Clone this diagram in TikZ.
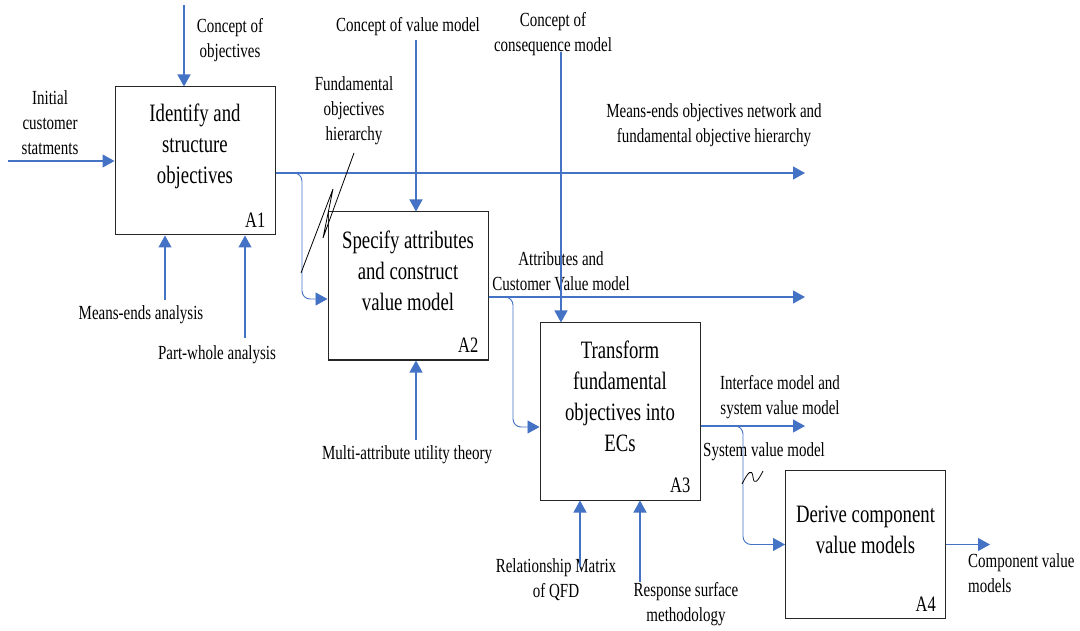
\documentclass[tikz,border=0pt]{standalone}
\usepackage{fontspec}
\setmainfont{Liberation Serif}[FakeStretch=0.75]
\usepackage{xcolor}
\usetikzlibrary{arrows.meta,positioning,calc}
\definecolor{idefblue}{RGB}{68,114,196}

\begin{document}
\begin{tikzpicture}[
  x=1pt, y=-1pt,
  act/.style={draw=black!85, line width=1pt, minimum width=160pt, minimum height=148pt, inner sep=0pt},
  acttxt/.style={align=center, inner sep=0pt, font=\fontsize{25}{31}\selectfont},
  num/.style={anchor=base east, inner sep=0pt, font=\fontsize{22}{22}\selectfont},
  lbl/.style={align=center, inner sep=0pt, font=\fontsize{20}{25}\selectfont},
  arr/.style={draw=idefblue, line width=1.2pt, -{Triangle[length=12pt,width=13pt]}},
  split/.style={arr, line width=0.9pt, rounded corners=8pt},
  tie/.style={draw=black, line width=0.8pt}
]
  \useasboundingbox (0,0) rectangle (1080,631);

  % activity boxes
  \node[act] (a1) at (195,161) {};
  \node[act] (a2) at (408,286) {};
  \node[act, minimum height=177pt] (a3) at (620,411.5) {};
  \node[act] (a4) at (865.5,544.5) {};

  \node[acttxt] (a1txt) at ($(a1.center)+(0,-15)$) {Identify and\\structure\\objectives};
  \node[acttxt] (a2txt) at ($(a2.center)+(0,-15)$) {Specify attributes\\and construct\\value model};
  \node[acttxt] (a3txt) at ($(a3.center)+(0,-15)$) {Transform\\fundamental\\objectives into\\ECs};
  \node[acttxt] (a4txt) at ($(a4.center)+(0,-15)$) {Derive component\\value models};

  \node[num] (a1num) at ($(a1.south east)+(-10,-8)$) {A1};
  \node[num] (a2num) at ($(a2.south east)+(-10,-8)$) {A2};
  \node[num] (a3num) at ($(a3.south east)+(-10,-8)$) {A3};
  \node[num] (a4num) at ($(a4.south east)+(-10,-8)$) {A4};

  % labels
  \node[lbl] (initl) at (50,123) {Initial\\customer\\statments};
  \node[lbl] (cobjl) at (230,40) {Concept of\\objectives};
  \node[lbl] (fohl) at (354,111) {Fundamental\\objectives\\hierarchy};
  \node[lbl] (cvml) at (408,27) {Concept of value model};
  \node[lbl] (ccml) at (553,34) {Concept of\\consequence model};
  \node[lbl] (menl) at (714,125.5) {Means-ends objectives network and\\fundamental objective hierarchy};
  \node[lbl] (attl) at (561,271.5) {Attributes and\\Customer Value model};
  \node[lbl] (meal) at (141,315) {Means-ends analysis};
  \node[lbl] (pwal) at (217,355) {Part-whole analysis};
  \node[lbl] (maul) at (407,455) {Multi-attribute utility theory};
  \node[lbl] (ifml) at (780,397.5) {Interface model and\\system value model};
  \node[lbl] (svml) at (764,452) {System value model};
  \node[lbl] (qfdl) at (556,580) {Relationship Matrix\\of QFD};
  \node[lbl] (rsml) at (686,604) {Response surface\\methodology};
  \node[lbl, align=left, anchor=west] (cvl) at (968,573.5) {Component value\\models};

  % A1
  \coordinate (in1) at (8,161);
  \coordinate (c1) at (184,5);
  \coordinate (m1a) at (165,300);
  \coordinate (m1b) at (245,338);
  \coordinate (o1) at (805,173);
  \coordinate (j1) at (302,299);
  \draw[arr] (in1) -- (a1.west);
  \draw[arr] (c1) -- (c1 |- a1.north);
  \draw[arr] (m1a) -- (m1a |- a1.south);
  \draw[arr] (m1b) -- (m1b |- a1.south);
  \draw[arr] (o1 -| a1.east) -- (o1);
  \draw[split] (o1 -| a1.east) -- (o1 -| j1) -- (j1) -- (j1 -| a2.west);

  % A2
  \coordinate (c2) at (416,40);
  \coordinate (m2) at (416,440);
  \coordinate (o2) at (805,297);
  \coordinate (j2) at (513,427);
  \draw[arr] (c2) -- (c2 |- a2.north);
  \draw[arr] (m2) -- (m2 |- a2.south);
  \draw[arr] (o2 -| a2.east) -- (o2);
  \draw[split] (o2 -| a2.east) -- (o2 -| j2) -- (j2) -- (j2 -| a3.west);

  % A3
  \coordinate (c3) at (561,52);
  \coordinate (m3a) at (580,567);
  \coordinate (m3b) at (640,582);
  \coordinate (o3) at (805,426);
  \coordinate (j3) at (743,544.5);
  \draw[arr] (c3) -- (c3 |- a3.north);
  \draw[arr] (m3a) -- (m3a |- a3.south);
  \draw[arr] (m3b) -- (m3b |- a3.south);
  \draw[arr] (o3 -| a3.east) -- (o3);
  \draw[split] (o3 -| a3.east) -- (o3 -| j3) -- (j3) -- (a4.west);

  % A4
  \coordinate (o4) at (990,544.5);
  \draw[arr] (a4.east) -- (o4);

  % squiggles
  \draw[tie] (301,273) -- (333,189) -- (323,238) -- (354,153);
  \draw[tie] (742,484) .. controls (748,472) and (752,468) .. (753,477)
    .. controls (754,486) and (758,481) .. (763,471);
\end{tikzpicture}
\end{document}
